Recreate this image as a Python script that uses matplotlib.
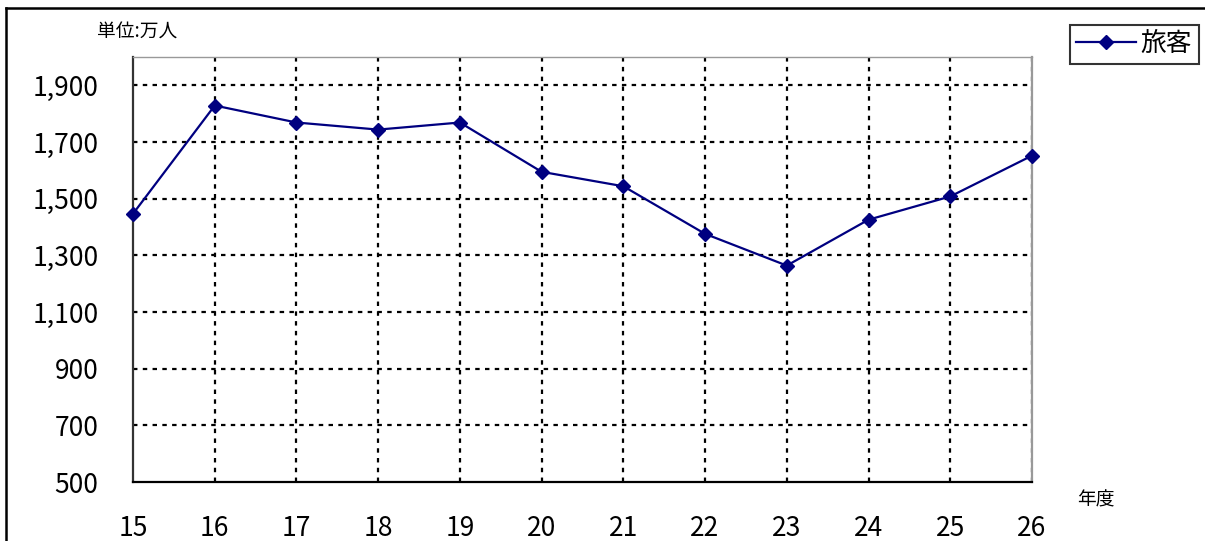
import matplotlib
matplotlib.use("Agg")
import matplotlib.pyplot as plt
from matplotlib.lines import Line2D

plt.rcParams['font.family'] = ['Noto Sans CJK JP', 'DejaVu Sans']

# 年度と旅客数（万人）
years = [15, 16, 17, 18, 19, 20, 21, 22, 23, 24, 25, 26]
passengers = [1447, 1829, 1769, 1744, 1769, 1595, 1544, 1376, 1264, 1426, 1508, 1652]
y_ticks = [500, 700, 900, 1100, 1300, 1500, 1700, 1900]
y_labels = ["500", "700", "900", "1,100", "1,300", "1,500", "1,700", "1,900"]
series_name = "旅客"

fig = plt.figure(figsize=(12.05, 5.41), dpi=100)
ax = fig.add_axes([0.1104, 0.109, 0.746, 0.7855])

ax.plot(years, passengers, color="#000080", lw=1.6, marker="D", markersize=7,
        label=series_name, clip_on=False, zorder=3)

ax.set_xlim(15, 26)
ax.set_ylim(500, 2000)
ax.set_xticks(years)
ax.set_yticks(y_ticks)
ax.set_yticklabels(y_labels)
ax.tick_params(axis="x", length=0, pad=24, labelsize=19)
ax.tick_params(axis="y", length=0, pad=25, labelsize=19)

# 点線グリッド
for x in years[1:]:
    ax.axvline(x, color="black", lw=1.6, linestyle=(0, (2.0, 2.4)), zorder=1)
for y in y_ticks[1:]:
    ax.axhline(y, color="black", lw=1.6, linestyle=(0, (2.0, 2.4)), zorder=1)

ax.spines["left"].set_color("#333333")
ax.spines["left"].set_linewidth(1.6)
ax.spines["bottom"].set_color("black")
ax.spines["bottom"].set_linewidth(1.6)
ax.spines["top"].set_color("#999999")
ax.spines["right"].set_color("#999999")
ax.spines["top"].set_linewidth(1.0)
ax.spines["right"].set_linewidth(1.6)

leg = ax.legend(loc="upper left", bbox_to_anchor=(1070 / 1205, 1 - 25 / 541),
                bbox_transform=fig.transFigure, fontsize=18.5,
                frameon=True, fancybox=False, edgecolor="black", handlelength=2.3,
                handletextpad=0.2, borderpad=0.25, borderaxespad=0)
leg.get_frame().set_linewidth(1.5)

fig.text(97 / 1205, 1 - 32 / 541, "単位:万人", fontsize=13.5, ha="left", va="center")
fig.text(1096 / 1205, 1 - 500 / 541, "年度", fontsize=13.5, ha="center", va="center")

# 外枠
fig.add_artist(Line2D([6 / 1205, 1.0], [1 - 8 / 541, 1 - 8 / 541], color="black", lw=1.8))
fig.add_artist(Line2D([6 / 1205, 6 / 1205], [0.0, 1 - 8 / 541], color="black", lw=1.8))

fig.savefig("out.png", dpi=100)
